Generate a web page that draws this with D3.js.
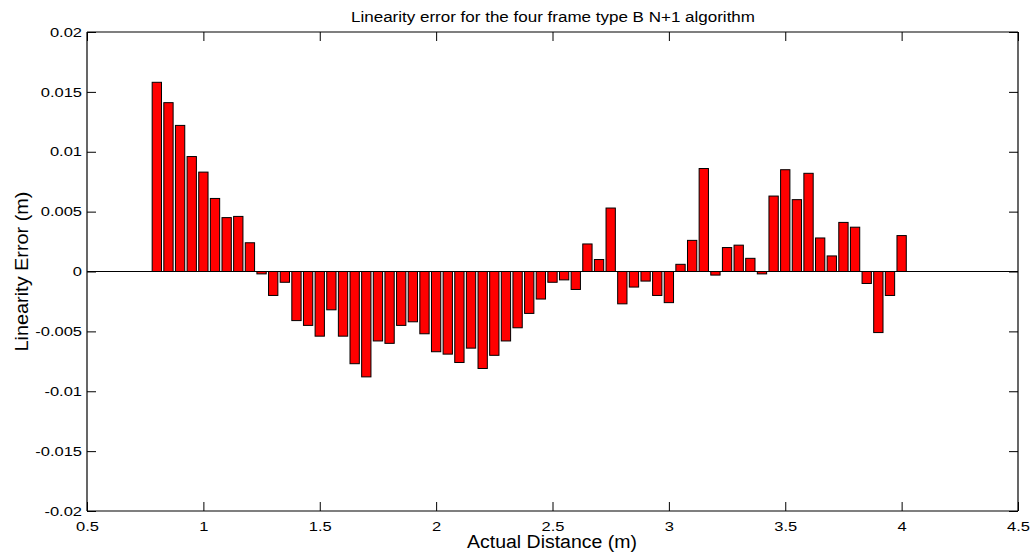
<!DOCTYPE html>
<html>
<head>
<meta charset="utf-8">
<script src="https://cdn.jsdelivr.net/npm/d3@7/dist/d3.min.js"></script>
<style>
  html, body { margin: 0; padding: 0; background: #fff; }
  svg { display: block; font-family: "Liberation Sans", Arial, Helvetica, sans-serif; }
</style>
</head>
<body>
<svg id="chart" width="1035" height="556"></svg>
<script>
const distances = [0.80,0.85,0.90,0.95,1.00,1.05,1.10,1.15,1.20,1.25,1.30,1.35,1.40,1.45,1.50,1.55,1.60,1.65,1.70,1.75,1.80,1.85,1.90,1.95,2.00,2.05,2.10,2.15,2.20,2.25,2.30,2.35,2.40,2.45,2.50,2.55,2.60,2.65,2.70,2.75,2.80,2.85,2.90,2.95,3.00,3.05,3.10,3.15,3.20,3.25,3.30,3.35,3.40,3.45,3.50,3.55,3.60,3.65,3.70,3.75,3.80,3.85,3.90,3.95,4.00];
const errors = [0.0158,0.0141,0.0122,0.0096,0.0083,0.0061,0.0045,0.0046,0.0024,-0.0002,-0.0020,-0.0009,-0.0041,-0.0045,-0.0054,-0.0032,-0.0054,-0.0077,-0.0088,-0.0058,-0.0060,-0.0045,-0.0042,-0.0052,-0.0067,-0.0069,-0.0076,-0.0064,-0.0081,-0.0070,-0.0058,-0.0047,-0.0035,-0.0023,-0.0009,-0.0007,-0.0015,0.0023,0.0010,0.0053,-0.0027,-0.0013,-0.0008,-0.0020,-0.0026,0.0006,0.0026,0.0086,-0.0003,0.0020,0.0022,0.0011,-0.0002,0.0063,0.0085,0.0060,0.0082,0.0028,0.0013,0.0041,0.0037,-0.0010,-0.0051,-0.0020,0.0030];
const xTicks = [0.5,1,1.5,2,2.5,3,3.5,4,4.5];
const yTicks = [-0.02,-0.015,-0.01,-0.005,0,0.005,0.01,0.015,0.02];
const xDomain = [0.5, 4.5];
const yDomain = [-0.02, 0.02];
const barStep = 0.05;
const titleText = "Linearity error for the four frame type B N+1 algorithm";
const xLabel = "Actual Distance (m)";
const yLabel = "Linearity Error (m)";

const L = 87, R = 1018, T = 32, B = 511;
const svg = d3.select("#chart");
const x = d3.scaleLinear().domain(xDomain).range([L, R]);
const y = d3.scaleLinear().domain(yDomain).range([B, T]);
const tickLen = 9;
const stretch = 1.27;
const fmt = v => String(+v.toFixed(3));

// bars
const bw = (x(barStep) - x(0)) * 0.8;
svg.append("g").selectAll("rect").data(distances).join("rect")
  .attr("x", (d) => x(d) - bw / 2)
  .attr("width", bw)
  .attr("y", (d, i) => Math.min(y(errors[i]), y(0)))
  .attr("height", (d, i) => Math.abs(y(errors[i]) - y(0)))
  .attr("fill", "#ff0000")
  .attr("stroke", "#000")
  .attr("stroke-width", 1);

// baseline
svg.append("line").attr("x1", L).attr("x2", R).attr("y1", y(0)).attr("y2", y(0))
  .attr("stroke", "#000").attr("stroke-width", 1);

// axes
const axB = d3.axisBottom(x).tickValues(xTicks).tickSize(-tickLen).tickPadding(10.5).tickFormat(fmt);
const axT = d3.axisTop(x).tickValues(xTicks).tickSize(-tickLen).tickFormat("");
const axLf = d3.axisLeft(y).tickValues(yTicks).tickSize(-tickLen).tickPadding(5).tickFormat(fmt);
const axRt = d3.axisRight(y).tickValues(yTicks).tickSize(-tickLen).tickFormat("");

function style(g) {
  g.selectAll("path.domain").attr("stroke", "#000").attr("stroke-width", 1.2);
  g.selectAll(".tick line").attr("stroke", "#000").attr("stroke-width", 1);
  g.selectAll(".tick text").attr("fill", "#000").attr("font-size", 13)
    .attr("font-family", "Liberation Sans, Arial, sans-serif")
    .each(function () {
      const t = d3.select(this);
      const x0 = +t.attr("x") || 0;
      t.attr("x", x0 / stretch).attr("transform", `scale(${stretch},1)`);
    });
}
svg.append("g").attr("transform", `translate(0,${B})`).call(axB).call(style).call(g => g.selectAll("path.domain").attr("d", `M${L},0H${R}`));
svg.append("g").attr("transform", `translate(0,${T})`).call(axT).call(style).call(g => g.selectAll("path.domain").attr("d", `M${L},0H${R}`));
svg.append("g").attr("transform", `translate(${L},0)`).call(axLf).call(style).call(g => g.selectAll("path.domain").attr("d", `M0,${T}V${B}`));
svg.append("g").attr("transform", `translate(${R},0)`).call(axRt).call(style).call(g => g.selectAll("path.domain").attr("d", `M0,${T}V${B}`));

// title and labels
svg.append("text").attr("x", 553).attr("y", 21.5).attr("text-anchor", "middle")
  .attr("font-size", 14).attr("textLength", 404).attr("lengthAdjust", "spacingAndGlyphs").text(titleText);
svg.append("text").attr("x", 552).attr("y", 547.5).attr("text-anchor", "middle")
  .attr("font-size", 18).attr("textLength", 170).attr("lengthAdjust", "spacingAndGlyphs").text(xLabel);
svg.append("text").attr("transform", `translate(28,${(T + B) / 2}) rotate(-90)`)
  .attr("text-anchor", "middle").attr("font-size", 18)
  .attr("textLength", 160).attr("lengthAdjust", "spacingAndGlyphs").text(yLabel);
</script>
</body>
</html>
